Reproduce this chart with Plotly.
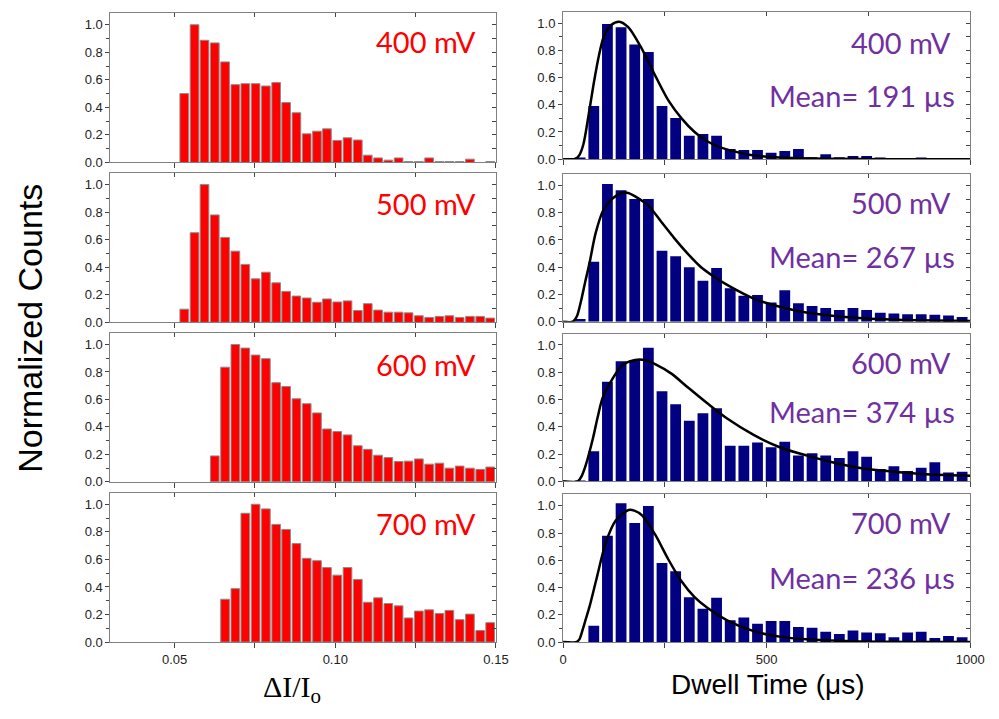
import plotly.graph_objects as go

W, H = 999, 719

# ---------------------------------------------------------------- data
voltages = ["400 mV", "500 mV", "600 mV", "700 mV"]
mean_dwell_us = [191, 267, 374, 236]

# blockade depth histogram (bin centres, dI/Io)
di_centers = [0.0530, 0.0562, 0.0593, 0.0625, 0.0657, 0.0689, 0.0720, 0.0752,
              0.0784, 0.0816, 0.0847, 0.0879, 0.0911, 0.0943, 0.0974, 0.1006,
              0.1038, 0.1070, 0.1101, 0.1133, 0.1165, 0.1197, 0.1228, 0.1260,
              0.1292, 0.1324, 0.1355, 0.1387, 0.1419, 0.1451, 0.1482]

di_400 = [0.50, 1.00, 0.887, 0.868, 0.73, 0.565, 0.572, 0.572, 0.555, 0.58,
          0.435, 0.361, 0.208, 0.227, 0.244, 0.16, 0.179, 0.163, 0.053, 0.033,
          0.017, 0.033, 0.007, 0.007, 0.033, 0.007, 0.007, 0.007, 0.024, None,
          0.007]
di_500 = [0.096, 0.651, 1.00, 0.78, 0.617, 0.517, 0.421, 0.316, 0.364, 0.287,
          0.225, 0.191, 0.177, 0.146, 0.17, 0.148, 0.156, 0.086, 0.136, 0.089,
          0.074, 0.074, 0.069, 0.048, 0.036, 0.043, 0.048, 0.036, 0.043, 0.043,
          0.031]
di_600 = [None, None, None, 0.189, 0.835, 1.00, 0.974, 0.923, 0.897, 0.722,
          0.694, 0.605, 0.569, 0.502, 0.385, 0.366, 0.342, 0.263, 0.237, 0.194,
          0.177, 0.148, 0.151, 0.167, 0.129, 0.136, 0.10, 0.115, 0.10, 0.091,
          0.108]
di_700 = [None, None, None, None, 0.311, 0.388, 0.935, 1.00, 0.967, 0.854,
          0.818, 0.715, 0.608, 0.591, 0.541, 0.486, 0.541, 0.455, 0.289, 0.321,
          0.28, 0.263, 0.175, 0.225, 0.234, 0.208, 0.23, 0.163, 0.203, 0.084,
          0.141]

# dwell time histogram (bin centres, microseconds)
dwell_centers = [42, 75.5, 109, 142.5, 176, 209.5, 243, 276.5, 310, 343.5,
                 377, 410.5, 444, 477.5, 511, 544.5, 578, 611.5, 645, 678.5,
                 712, 745.5, 779, 812.5, 846, 879.5, 913, 946.5, 980]

dwell_400 = [0.01, 0.39, 0.993, 0.969, 0.843, 0.787, 0.39, 0.303, 0.172, 0.186,
             0.172, 0.075, 0.068, 0.068, 0.048, 0.061, 0.075, 0.015, 0.036,
             0.015, 0.024, 0.024, 0.005, 0.004, 0.004, 0.012, 0.004, 0.004,
             0.004]
dwell_500 = [0.02, 0.44, 1.01, 0.965, 0.90, 0.90, 0.52, 0.48, 0.40, 0.30,
             0.395, 0.245, 0.19, 0.195, 0.14, 0.23, 0.135, 0.115, 0.10, 0.085,
             0.10, 0.085, 0.065, 0.06, 0.055, 0.055, 0.05, 0.045, 0.035]
dwell_600 = [0.005, 0.22, 0.73, 0.88, 0.89, 0.98, 0.66, 0.565, 0.445, 0.50,
             0.535, 0.26, 0.26, 0.285, 0.25, 0.29, 0.19, 0.205, 0.19, 0.17,
             0.22, 0.18, 0.09, 0.11, 0.075, 0.10, 0.14, 0.065, 0.07]
dwell_700 = [None, 0.12, 0.78, 1.02, 0.875, 1.00, 0.58, 0.52, 0.33, 0.245,
             0.325, 0.16, 0.18, 0.135, 0.155, 0.155, 0.11, 0.105, 0.075, 0.06,
             0.085, 0.07, 0.065, 0.035, 0.07, 0.075, 0.03, 0.045, 0.035]

# fitted dwell-time distributions (sampled curve)
fit_400_t = [0, 26, 32, 40, 50, 62, 75, 88, 100, 118, 138, 160, 190, 227, 259,
             291, 323, 355, 404, 468, 548, 650, 800, 1000]
fit_400_y = [0, 0, 0.005, 0.03, 0.11, 0.31, 0.55, 0.76, 0.90, 0.985, 1.01,
             0.97, 0.83, 0.61, 0.43, 0.30, 0.20, 0.13, 0.07, 0.028, 0.01,
             0.003, 0, 0]

fit_500_t = [0, 24, 34, 44, 55, 65, 80, 99, 120, 145, 160, 177, 210, 242, 274,
             306, 339, 371, 403, 468, 532, 597, 661, 726, 790, 871, 1000]
fit_500_y = [0, 0, 0.04, 0.15, 0.30, 0.43, 0.65, 0.82, 0.90, 0.945, 0.945,
             0.92, 0.85, 0.73, 0.61, 0.50, 0.40, 0.33, 0.27, 0.17, 0.11, 0.068,
             0.044, 0.027, 0.017, 0.01, 0.005]

fit_600_t = [0, 36, 46, 56, 73, 85, 97, 121, 145, 177, 200, 226, 266, 306, 355,
             403, 468, 532, 597, 661, 726, 790, 871, 1000]
fit_600_y = [0, 0, 0.04, 0.12, 0.31, 0.47, 0.61, 0.75, 0.85, 0.89, 0.89, 0.86,
             0.79, 0.69, 0.57, 0.46, 0.34, 0.25, 0.19, 0.14, 0.10, 0.077,
             0.056, 0.04]

fit_700_t = [0, 32, 40, 48, 56, 65, 81, 105, 129, 161, 175, 194, 226, 258, 290,
             323, 355, 403, 468, 532, 597, 710, 1000]
fit_700_y = [0, 0, 0.02, 0.09, 0.17, 0.26, 0.45, 0.73, 0.89, 0.97, 0.965, 0.93,
             0.79, 0.61, 0.45, 0.33, 0.25, 0.16, 0.08, 0.04, 0.02, 0.007, 0]

di_series = [di_400, di_500, di_600, di_700]
dwell_series = [dwell_400, dwell_500, dwell_600, dwell_700]
fit_series = [(fit_400_t, fit_400_y), (fit_500_t, fit_500_y),
              (fit_600_t, fit_600_y), (fit_700_t, fit_700_y)]

# ---------------------------------------------------------------- styling
RED = "#ff0000"
NAVY = "#000080"
PURPLE = "#7030a0"
FRAME = "#808080"
TICKC = "#444444"
TICK_FONT = dict(family="Liberation Sans, Arial", size=13, color="#222222")
LABEL_FONT = "Lato, Open Sans, sans-serif"

# panel frames in pixels: (top, bottom)
left_rows = [(13.3, 164.3), (175, 326), (336.7, 487.3), (498.3, 649.3)]
right_rows = [(11.7, 161), (176, 325.3), (337.3, 486.7), (500, 649.3)]
left_x = [108.3 / W, 501 / W]
right_x = [569.3 / W, 984 / W]
Y_RANGE = [0, 1.084]

# vertical placement of the in-panel labels (axis units)
left_label_y = [0.875, 0.863, 0.857, 0.862]
right_label_y = [0.86, 0.873, 0.871, 0.878]
mean_label_y = [0.468, 0.479, 0.515, 0.474]

y_tickvals = [0, 0.2, 0.4, 0.6, 0.8, 1.0]
y_ticktext = ["0.0", "0.2", "0.4", "0.6", "0.8", "1.0"]
y_minor = [0.1, 0.3, 0.5, 0.7, 0.9]

di_major = [0.05, 0.10, 0.15]
di_labels = ["0.05", "0.10", "0.15"]
di_minor = [0.075, 0.125]
dw_major = [0, 500, 1000]
dw_labels = ["0", "500", "1000"]
dw_minor = [250, 750]


def axname(kind, n):
    return f"{kind}axis" if n == 1 else f"{kind}axis{n}"


def axref(kind, n):
    return kind if n == 1 else f"{kind}{n}"


fig = go.Figure()
layout = {}
annotations = []


def build_panel(n, rows_px, xdom, xrange, xmaj, xlab, xmin, show_xlabels):
    top, bot = rows_px
    ydom = [1 - bot / H, 1 - top / H]
    common = dict(showgrid=False, zeroline=False, showline=True,
                  linecolor=FRAME, linewidth=1, tickcolor=TICKC,
                  tickfont=TICK_FONT)
    layout[axname("x", n)] = dict(
        domain=xdom, range=xrange, anchor=axref("y", n),
        tickmode="array", tickvals=xmaj, ticktext=xlab,
        showticklabels=show_xlabels, ticks="outside", ticklen=5,
        minor=dict(tickmode="array", tickvals=xmin, ticks="outside",
                   ticklen=5, tickcolor=TICKC),
        **common)
    layout[axname("y", n)] = dict(
        domain=ydom, range=Y_RANGE, anchor=axref("x", n),
        tickmode="array", tickvals=y_tickvals, ticktext=y_ticktext,
        ticks="outside", ticklen=4,
        minor=dict(tickmode="array", tickvals=y_minor, ticks="outside",
                   ticklen=3, tickcolor=TICKC),
        **common)
    # opposite frame sides with inward ticks
    m = n + 8
    layout[axname("x", m)] = dict(
        overlaying=axref("x", n), anchor=axref("y", n), side="top",
        domain=xdom, range=xrange, tickmode="array",
        tickvals=sorted(xmaj + xmin), showticklabels=False,
        ticks="inside", ticklen=4, showgrid=False, zeroline=False,
        showline=True, linecolor=FRAME, linewidth=1, tickcolor=TICKC)
    layout[axname("y", m)] = dict(
        overlaying=axref("y", n), anchor=axref("x", n), side="right",
        domain=ydom, range=Y_RANGE, tickmode="array",
        tickvals=sorted(y_tickvals + y_minor), showticklabels=False,
        ticks="inside", ticklen=4, showgrid=False, zeroline=False,
        showline=True, linecolor=FRAME, linewidth=1, tickcolor=TICKC)
    fig.add_trace(go.Scatter(x=[None], y=[None], xaxis=axref("x", m),
                             yaxis=axref("y", n), showlegend=False,
                             hoverinfo="skip"))
    fig.add_trace(go.Scatter(x=[None], y=[None], xaxis=axref("x", n),
                             yaxis=axref("y", m), showlegend=False,
                             hoverinfo="skip"))


for r in range(4):
    last = r == 3
    # left column: blockade depth
    n = r + 1
    build_panel(n, left_rows[r], left_x, [0.03, 0.15], di_major, di_labels,
                di_minor, last)
    fig.add_trace(go.Bar(
        x=di_centers, y=di_series[r], width=0.0027,
        marker=dict(color=RED, line=dict(color="#8c8c8c", width=1)),
        xaxis=axref("x", n), yaxis=axref("y", n), showlegend=False))
    annotations.append(dict(
        x=0.1445, y=left_label_y[r], xref=axref("x", n), yref=axref("y", n),
        xanchor="right", yanchor="middle", showarrow=False,
        text=voltages[r], font=dict(family=LABEL_FONT, size=29, color=RED)))

    # right column: dwell time
    n = r + 5
    build_panel(n, right_rows[r], right_x, [0, 1000], dw_major, dw_labels,
                dw_minor, last)
    fig.add_trace(go.Bar(
        x=dwell_centers, y=dwell_series[r], width=26.5,
        marker=dict(color=NAVY, line=dict(width=0)),
        xaxis=axref("x", n), yaxis=axref("y", n), showlegend=False))
    ft, fy = fit_series[r]
    fig.add_trace(go.Scatter(
        x=ft, y=fy, mode="lines",
        line=dict(color="black", width=2.5, shape="spline", smoothing=0.8),
        xaxis=axref("x", n), yaxis=axref("y", n), showlegend=False))
    annotations.append(dict(
        x=958, y=right_label_y[r], xref=axref("x", n), yref=axref("y", n),
        xanchor="right", yanchor="middle", showarrow=False,
        text=voltages[r], font=dict(family=LABEL_FONT, size=29, color=PURPLE)))
    annotations.append(dict(
        x=967, y=mean_label_y[r], xref=axref("x", n), yref=axref("y", n),
        xanchor="right", yanchor="middle", showarrow=False,
        text=f"Mean= {mean_dwell_us[r]} \u00b5s",
        font=dict(family=LABEL_FONT, size=29, color=PURPLE)))

# shared axis titles
annotations.append(dict(
    x=27 / W, y=1 - 332 / H, xref="paper", yref="paper", textangle=-90,
    xanchor="center", yanchor="middle", showarrow=False,
    text="Normalized Counts",
    font=dict(family="Liberation Sans, Arial", size=34, color="black")))
annotations.append(dict(
    x=293 / W, y=1 - 697 / H, xref="paper", yref="paper",
    xanchor="center", yanchor="middle", showarrow=False,
    text="\u0394I/I<sub>o</sub>",
    font=dict(family="Liberation Serif, Times New Roman, serif", size=30,
              color="black")))
annotations.append(dict(
    x=777 / W, y=1 - 692 / H, xref="paper", yref="paper",
    xanchor="center", yanchor="middle", showarrow=False,
    text="Dwell Time (\u03bcs)",
    font=dict(family="Liberation Sans, Arial", size=28, color="black")))

fig.update_layout(
    width=W, height=H, margin=dict(l=0, r=0, t=0, b=0),
    paper_bgcolor="white", plot_bgcolor="white",
    showlegend=False, annotations=annotations, **layout)

# page body without the default browser margin so the figure fills the window
fig.write_html("out.html", config={"displayModeBar": False},
               post_script="document.body.style.margin='0';"
                           "document.body.style.overflow='hidden';")
